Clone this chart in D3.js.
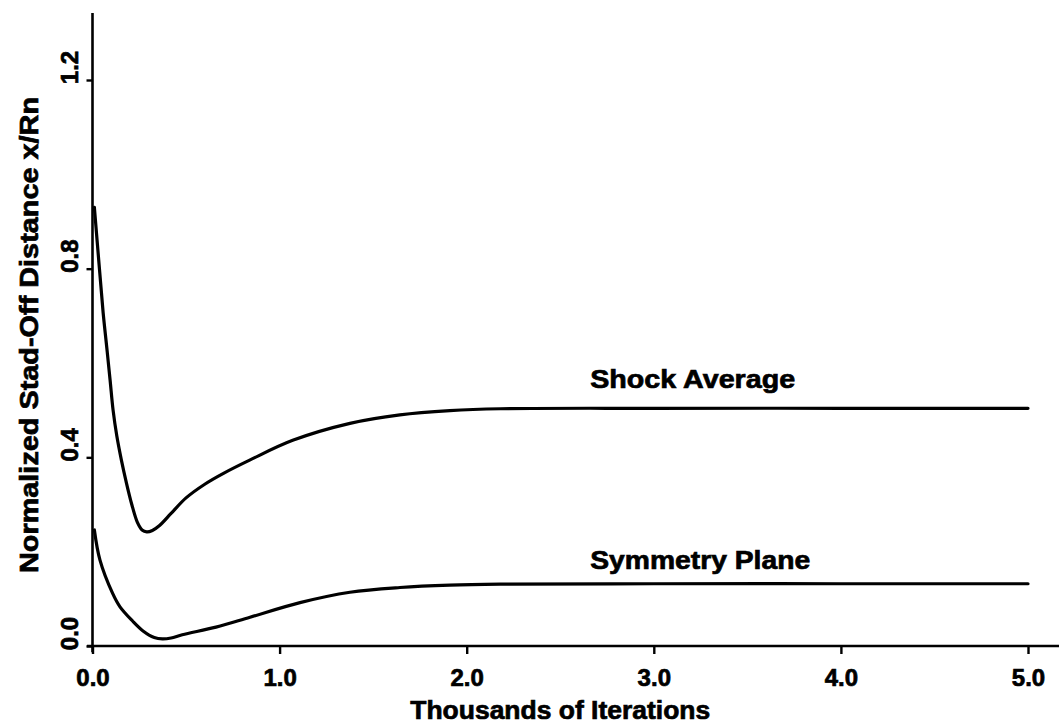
<!DOCTYPE html>
<html>
<head>
<meta charset="utf-8">
<script src="https://cdn.jsdelivr.net/npm/d3@7"></script>
<style>
  html, body { margin: 0; padding: 0; background: #fff; }
  svg { display: block; }
  text { font-family: "Liberation Sans", Arial, sans-serif; font-weight: bold; fill: #000; stroke: #000; stroke-width: 0.7px; }
</style>
</head>
<body>
<svg id="chart" width="1059" height="724"></svg>
<script>
// Iterations are in thousands; stand-off distance is normalized by nose radius.
const shockIter = [0.01, 0.037, 0.057, 0.076, 0.094, 0.11, 0.13, 0.155, 0.18, 0.21, 0.24, 0.265, 0.29, 0.32, 0.36, 0.42, 0.50, 0.60, 0.70, 0.84, 1.07, 1.376, 1.643, 1.91, 2.18, 3.0, 4.0, 5.0];
const shockDist = [0.93, 0.80, 0.706, 0.634, 0.564, 0.50, 0.445, 0.393, 0.348, 0.300, 0.262, 0.246, 0.242, 0.245, 0.256, 0.281, 0.314, 0.343, 0.366, 0.394, 0.436, 0.472, 0.490, 0.499, 0.503, 0.504, 0.504, 0.504];

const symIter = [0.01, 0.04, 0.107, 0.147, 0.214, 0.27, 0.33, 0.374, 0.42, 0.48, 0.66, 0.842, 1.109, 1.376, 1.643, 1.91, 2.18, 3.0, 4.0, 5.0];
const symDist = [0.246, 0.182, 0.112, 0.083, 0.053, 0.032, 0.018, 0.015, 0.017, 0.024, 0.040, 0.061, 0.092, 0.114, 0.124, 0.129, 0.131, 0.132, 0.132, 0.132];

const xTicks = [0, 1, 2, 3, 4, 5];
const yTicks = [0, 0.4, 0.8, 1.2];
const seriesNames = ["Shock Average", "Symmetry Plane"];
const xTitle = "Thousands of Iterations";
const yTitle = "Normalized Stad-Off Distance x/Rn";

// Axis line extents (data units)
const xExtent = [-0.03, 5.17];
const yExtent = [-0.013, 1.342];

const svg = d3.select("#chart");

const x = d3.scaleLinear().domain([0, 5]).range([92.5, 1028]);
const y = d3.scaleLinear().domain([0, 1.2]).range([646, 80]);

// Axis lines
svg.append("line")
  .attr("x1", x(xExtent[0])).attr("x2", x(xExtent[1]))
  .attr("y1", y(0)).attr("y2", y(0))
  .attr("stroke", "#000").attr("stroke-width", 2.6);
svg.append("line")
  .attr("x1", x(0)).attr("x2", x(0))
  .attr("y1", y(yExtent[0])).attr("y2", y(yExtent[1]))
  .attr("stroke", "#000").attr("stroke-width", 2.6);

function styleTickText(sel) {
  sel.style("font-family", "'Liberation Sans', Arial, sans-serif")
    .style("font-weight", "bold")
    .style("font-size", "24px")
    .attr("fill", "#000")
    .attr("stroke", "#000")
    .attr("stroke-width", 0.7);
}

// X axis ticks and labels
const xAxis = svg.append("g")
  .attr("transform", `translate(0,${y(0)})`)
  .call(d3.axisBottom(x).tickValues(xTicks).tickFormat(d3.format(".1f")).tickSize(8).tickSizeOuter(0));
xAxis.select(".domain").remove();
xAxis.selectAll(".tick line").attr("stroke", "#000").attr("stroke-width", 2.4);
xAxis.selectAll(".tick text").attr("y", 40).attr("dy", null).call(styleTickText);

// Y axis ticks and rotated labels
const yAxis = svg.append("g")
  .attr("transform", `translate(${x(0)},0)`)
  .call(d3.axisLeft(y).tickValues(yTicks).tickFormat(d3.format(".1f")).tickSize(6).tickSizeOuter(0));
yAxis.select(".domain").remove();
yAxis.selectAll(".tick line").attr("stroke", "#000").attr("stroke-width", 2.4);
yAxis.selectAll(".tick text")
  .attr("x", null).attr("dy", null)
  .attr("transform", "translate(-15,-13) rotate(-90)")
  .attr("text-anchor", "middle")
  .call(styleTickText);

// Curves
const line = d3.line()
  .x(d => x(d[0]))
  .y(d => y(d[1]))
  .curve(d3.curveCatmullRom.alpha(0.5));

const shock = shockIter.map((v, i) => [v, shockDist[i]]);
const sym = symIter.map((v, i) => [v, symDist[i]]);

[shock, sym].forEach(s => {
  svg.append("path")
    .datum(s)
    .attr("d", line)
    .attr("fill", "none")
    .attr("stroke", "#000")
    .attr("stroke-width", 3.2)
    .attr("stroke-linejoin", "round")
    .attr("stroke-linecap", "round");
});

// Curve labels
svg.append("text")
  .attr("x", x(2.66)).attr("y", y(0.504) - 20)
  .attr("textLength", 205).attr("lengthAdjust", "spacingAndGlyphs")
  .style("font-size", "26px")
  .text(seriesNames[0]);
svg.append("text")
  .attr("x", x(2.66)).attr("y", y(0.132) - 15)
  .attr("textLength", 220).attr("lengthAdjust", "spacingAndGlyphs")
  .style("font-size", "26px")
  .text(seriesNames[1]);

// Axis titles
svg.append("text")
  .attr("x", x(2.5)).attr("y", 719)
  .attr("text-anchor", "middle")
  .attr("textLength", 300).attr("lengthAdjust", "spacingAndGlyphs")
  .style("font-size", "26px")
  .text(xTitle);
svg.append("text")
  .attr("transform", `translate(38,335) rotate(-90)`)
  .attr("text-anchor", "middle")
  .attr("textLength", 476).attr("lengthAdjust", "spacingAndGlyphs")
  .style("font-size", "26px")
  .text(yTitle);
</script>
</body>
</html>
